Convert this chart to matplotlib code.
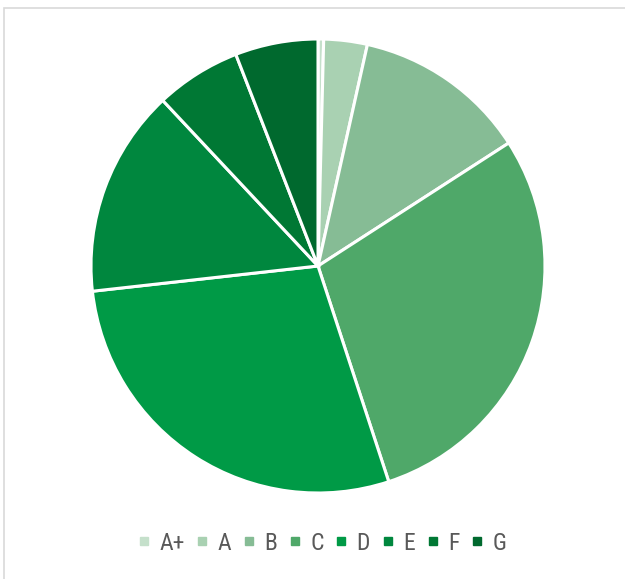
import numpy as np
import matplotlib.pyplot as plt
from matplotlib.patches import Rectangle
from matplotlib import font_manager

labels = ["A+", "A", "B", "C", "D", "E", "F", "G"]
values = [0.4, 3.1, 12.4, 29.1, 28.3, 14.8, 6.1, 5.9]
colors = ["#c5e0cb", "#a9d1b2", "#86bc95", "#4fa869", "#009a46", "#00873e", "#007834", "#00692e"]

names = {f.name for f in font_manager.fontManager.ttflist}
fam = [n for n in ['Liberation Sans Narrow', 'Roboto Condensed', 'Liberation Sans'] if n in names]
plt.rcParams['font.family'] = fam + ['DejaVu Sans']

fig = plt.figure(figsize=(6.25, 5.79), dpi=100)
W, H = 625, 579

# chart frame
fig.patches.append(Rectangle((4 / W, -0.1), 1.1, 1 - 8 / H + 0.1, transform=fig.transFigure,
                             fill=False, edgecolor="#d9d9d9", linewidth=1.2))

cx, cy, r = 318, 266, 227
ax = fig.add_axes([(cx - r) / W, (H - cy - r) / H, 2 * r / W, 2 * r / H])
ax.pie(values, colors=colors, startangle=90, counterclock=False,
       wedgeprops=dict(edgecolor="white", linewidth=2.2))
ax.set_aspect("equal")
ax.set_xlim(-1, 1)
ax.set_ylim(-1, 1)
ax.axis("off")

handles = [plt.Line2D([], [], marker="s", linestyle="none", markersize=6,
                      markerfacecolor=c, markeredgecolor=c) for c in colors]
fig.legend(handles, labels, loc="center", bbox_to_anchor=(322 / W, 1 - 543 / H),
           ncol=8, frameon=False, fontsize=17, labelcolor="#595959",
           handletextpad=0.4, columnspacing=0.5, handlelength=0.5)

fig.savefig("out.png", dpi=100)
